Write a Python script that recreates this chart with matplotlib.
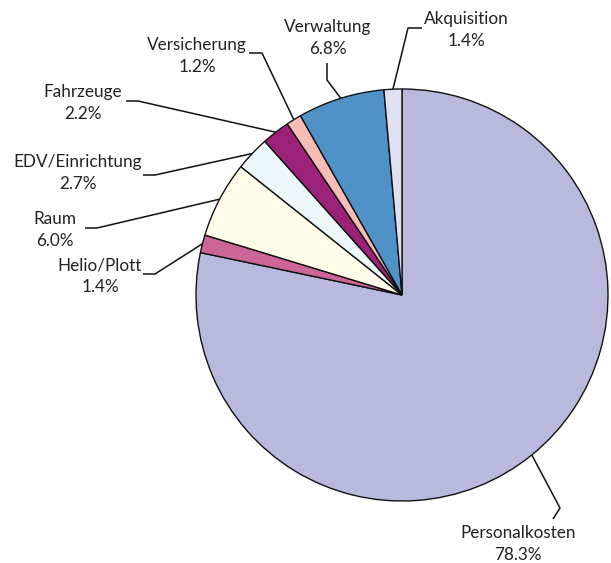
import matplotlib.pyplot as plt
import numpy as np

plt.rcParams['font.family'] = ['Lato', 'DejaVu Sans']

labels = ['Personalkosten', 'Helio/Plott', 'Raum', 'EDV/Einrichtung',
          'Fahrzeuge', 'Versicherung', 'Verwaltung', 'Akquisition']
shares = [78.3, 1.4, 6.0, 2.7, 2.2, 1.2, 6.8, 1.4]
colors = ['#b8b9dc', '#cc6699', '#fffde9', '#eef7f9',
          '#9b2278', '#f6bdb6', '#4f92c8', '#dfe0f1']

# layout in pixel coords (y down): label centre and leader bend points
H = 563
label_pos = [(518, 544), (100, 276), (55, 230), (78, 173),
             (83, 103), (197, 56), (328, 38), (466, 30)]
leader_pts = [[(560, 508), (553, 519)],
              [(155, 274), (143, 274)],
              [(97, 228), (85, 228)],
              [(155, 175), (143, 175)],
              [(138, 101), (126, 101)],
              [(262, 53), (249, 53)],
              [(327, 80), (327, 63)],
              [(408, 28), (422, 28)]]

cx, cy, r = 402, H - 295, 206

fig = plt.figure(figsize=(6.11, 5.63), dpi=100)
ax = fig.add_axes([0, 0, 1, 1])
wedges, _ = ax.pie(shares, colors=colors, startangle=90, counterclock=False,
                   center=(cx, cy), radius=r,
                   wedgeprops=dict(edgecolor='#111111', linewidth=1.0))
ax.set_xlim(0, 611)
ax.set_ylim(0, H)
ax.set_aspect('equal')
ax.axis('off')

for w, lab, val, (tx, ty), pts in zip(wedges, labels, shares, label_pos, leader_pts):
    mid = np.deg2rad((w.theta1 + w.theta2) / 2)
    xs = [cx + r * np.cos(mid)] + [p[0] for p in pts]
    ys = [cy + r * np.sin(mid)] + [H - p[1] for p in pts]
    ax.plot(xs, ys, color='#111111', lw=1.1, solid_capstyle='butt')
    ax.text(tx, H - ty, f'{lab}\n{val:.1f}%', ha='center', va='center',
            fontsize=12.3, color='#222222', linespacing=1.4)

fig.savefig('out.png', dpi=100)
